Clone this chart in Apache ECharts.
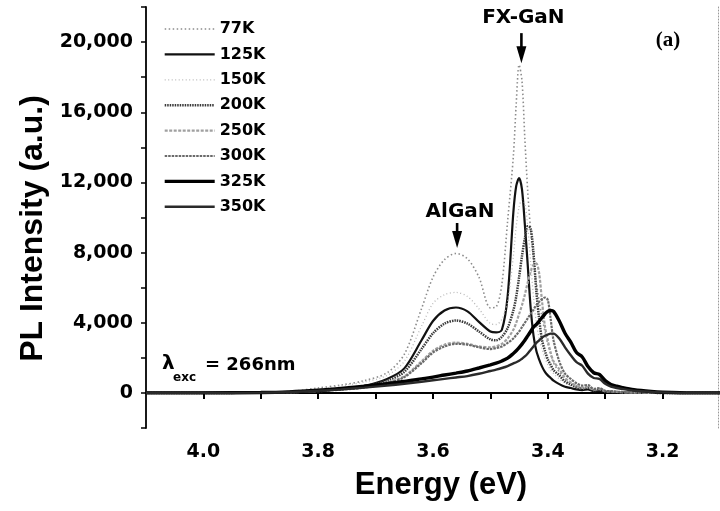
<!DOCTYPE html>
<html><head><meta charset="utf-8">
<script src="https://cdn.jsdelivr.net/npm/echarts@6/dist/echarts.min.js"></script>
<style>html,body{margin:0;padding:0;background:#fff}#c{width:720px;height:511px}</style>
</head><body><div id="c"></div>
<script>
// Photon energy grid (eV)
const energy = [4.10, 4.00, 3.90, 3.85, 3.80, 3.76, 3.72, 3.68, 3.65, 3.62,
  3.60, 3.58, 3.56, 3.54, 3.52, 3.50, 3.49, 3.48, 3.47, 3.46,
  3.455, 3.45, 3.445, 3.44, 3.435, 3.43, 3.425, 3.42, 3.415, 3.41,
  3.405, 3.40, 3.395, 3.39, 3.38, 3.37, 3.36, 3.35, 3.34, 3.33,
  3.32, 3.31, 3.30, 3.29, 3.28, 3.27, 3.25, 3.22, 3.20, 3.15, 3.10];

const temps = ['77K', '125K', '150K', '200K', '250K', '300K', '325K', '350K'];

const pl77K = [0, 0, 20, 80, 280, 450, 700, 1150, 2200, 4800,
  6600, 7600, 7950, 7650, 6600, 4850, 4900, 6200, 9800, 13500,
  16500, 18700, 17800, 14500, 11500, 9300, 7600, 6300, 5200, 4300,
  3500, 2800, 2200, 1700, 1200, 800, 550, 380, 280, 320,
  160, 200, 100, 80, 60, 40, 20, 10, 0, 0, 0];
const pl125K = [0, 0, 10, 40, 130, 250, 400, 800, 1400, 3000,
  4100, 4700, 4870, 4650, 4050, 3500, 3450, 3600, 5500, 10300,
  11800, 12250, 11600, 9600, 7300, 4900, 3300, 2400, 1900, 1500,
  1200, 1000, 850, 700, 500, 350, 280, 200, 160, 200,
  90, 120, 60, 50, 40, 30, 15, 5, 0, 0, 0];
const pl150K = [0, 0, 15, 60, 220, 400, 620, 1000, 1800, 3800,
  5100, 5600, 5730, 5500, 4800, 3950, 3900, 4200, 5200, 7800,
  9500, 10600, 11000, 10800, 9500, 7500, 5500, 4000, 3100, 2500,
  2000, 1600, 1300, 1100, 800, 550, 400, 300, 220, 260,
  130, 160, 80, 60, 50, 30, 15, 5, 0, 0, 0];
const pl200K = [0, 0, 10, 40, 130, 240, 380, 700, 1200, 2500,
  3400, 3950, 4130, 3950, 3500, 3050, 3000, 3200, 3700, 4700,
  5500, 6600, 7800, 8800, 9500, 9400, 8000, 5800, 4200, 3000,
  2400, 1900, 1600, 1300, 1000, 650, 480, 330, 260, 300,
  150, 190, 80, 60, 50, 30, 15, 5, 0, 0, 0];
const pl250K = [0, 0, 10, 35, 110, 200, 330, 600, 950, 1800,
  2400, 2750, 2870, 2800, 2650, 2600, 2650, 2800, 3100, 3600,
  4000, 4500, 5000, 5600, 6300, 6900, 7300, 7380, 6800, 5200,
  3800, 3000, 2300, 1800, 1350, 850, 600, 400, 300, 350,
  180, 220, 100, 80, 60, 40, 20, 5, 0, 0, 0];
const pl300K = [0, 0, 10, 30, 100, 180, 300, 560, 900, 1700,
  2300, 2650, 2800, 2750, 2600, 2500, 2550, 2650, 2850, 3100,
  3300, 3500, 3750, 4000, 4250, 4500, 4750, 5000, 5200, 5350,
  5440, 5300, 4200, 3000, 1800, 1100, 800, 550, 420, 450,
  230, 270, 120, 100, 70, 50, 25, 5, 0, 0, 0];
const pl325K = [0, 0, 20, 60, 150, 250, 380, 530, 650, 800,
  900, 1020, 1130, 1250, 1420, 1600, 1700, 1820, 1980, 2250,
  2400, 2580, 2780, 3000, 3250, 3500, 3750, 3900, 4100, 4300,
  4500, 4650, 4700, 4650, 4100, 3400, 2900, 2300, 2050, 1500,
  1150, 1050, 700, 480, 380, 300, 180, 80, 40, 0, 0];
const pl350K = [0, 0, 15, 50, 120, 200, 300, 420, 520, 640,
  720, 800, 880, 960, 1090, 1250, 1330, 1420, 1530, 1680,
  1750, 1830, 1950, 2080, 2250, 2450, 2650, 2850, 3000, 3150,
  3260, 3330, 3380, 3380, 3100, 2600, 2150, 1750, 1550, 1100,
  850, 800, 520, 360, 280, 220, 130, 60, 30, 0, 0];

const xMajorTicks = [4.0, 3.8, 3.6, 3.4, 3.2];
const xAllTicks = [4.0, 3.9, 3.8, 3.7, 3.6, 3.5, 3.4, 3.3, 3.2];

const seriesValues = [pl77K, pl125K, pl150K, pl200K, pl250K, pl300K, pl325K, pl350K];
const lineStyles = [
  {color: '#8c8c8c', width: 1.6, type: [1.5, 2.5]},
  {color: '#111111', width: 2.2, type: 'solid'},
  {color: '#b8b8b8', width: 1.3, type: [1, 2.5]},
  {color: '#3a3a3a', width: 2.5, type: [1.5, 1]},
  {color: '#a0a0a0', width: 2.2, type: [3, 1.5]},
  {color: '#6a6a6a', width: 2.2, type: [2.5, 1]},
  {color: '#000000', width: 3.4, type: 'solid'},
  {color: '#2a2a2a', width: 2.4, type: 'solid'}
];

const chart = echarts.init(document.getElementById('c'), null, {renderer: 'canvas'});
const tickFont = {fontFamily: 'DejaVu Sans', fontWeight: 'bold', fontSize: 19, color: '#000'};

const option = {
  animation: false,
  backgroundColor: '#fff',
  grid: {left: 146, right: 2, top: 7, bottom: 83},
  legend: {
    orient: 'vertical', left: 163, top: 21, padding: 0,
    itemWidth: 50, itemHeight: 14, itemGap: 9.4,
    data: temps.map((t, k) => ({name: t, lineStyle: Object.assign({}, lineStyles[k])})),
    itemStyle: {opacity: 0},
    textStyle: {fontFamily: 'DejaVu Sans', fontWeight: 'bold', fontSize: 16, lineHeight: 16, color: '#000'}
  },
  xAxis: [{
    type: 'value', min: 3.1035, max: 4.1, inverse: true, position: 'bottom',
    axisLine: {show: true, lineStyle: {color: '#000', width: 1.8}},
    axisTick: {show: true, customValues: xAllTicks, length: 6, lineStyle: {color: '#000', width: 2}},
    axisLabel: Object.assign({customValues: xMajorTicks, margin: 15, formatter: v => v.toFixed(1)}, tickFont),
    splitLine: {show: false},
    name: 'Energy (eV)', nameLocation: 'middle', nameGap: 42,
    nameTextStyle: {fontFamily: 'Liberation Sans', fontWeight: 'bold', fontSize: 31, color: '#000', padding: [0, 0, 0, 18]}
  }, {
    type: 'value', min: 3.1035, max: 4.1, inverse: true, position: 'top',
    axisLine: {show: true, lineStyle: {color: '#000', width: 1.8}},
    axisTick: {show: false}, axisLabel: {show: false}, splitLine: {show: false}
  }],
  yAxis: [{
    type: 'value', min: -2000, max: 22000, interval: 2000, position: 'left',
    axisLine: {show: true, lineStyle: {color: '#000', width: 1.8}},
    axisTick: {show: true, length: 5, lineStyle: {color: '#000', width: 1.5}},
    axisLabel: Object.assign({margin: 13, formatter: v => (v >= 0 && v <= 20000 && v % 4000 === 0) ? v.toLocaleString('en-US') : ''}, tickFont),
    splitLine: {show: false},
    name: 'PL Intensity (a.u.)', nameLocation: 'middle', nameGap: 88,
    nameTextStyle: {fontFamily: 'Liberation Sans', fontWeight: 'bold', fontSize: 32, color: '#000', padding: [0, 22, 0, 0]}
  }, {
    type: 'value', min: -2000, max: 22000, position: 'right',
    axisLine: {show: true, lineStyle: {color: '#999', width: 1, type: [1, 2]}},
    axisTick: {show: false}, axisLabel: {show: false}, splitLine: {show: false}
  }],
  series: temps.map((name, k) => ({
    name: name, type: 'line', xAxisIndex: 0, yAxisIndex: 0,
    symbol: 'none', smooth: 0.3, clip: true,
    lineStyle: lineStyles[k], itemStyle: {color: lineStyles[k].color},
    data: energy.map((e, i) => [e, seriesValues[k][i]])
  }))
};
chart.setOption(option);

// Annotations anchored to data coordinates
const algTip = chart.convertToPixel({xAxisIndex: 0, yAxisIndex: 0}, [3.558, 8260]);
const fxTip = chart.convertToPixel({xAxisIndex: 0, yAxisIndex: 0}, [3.446, 18800]);
function arrow(tip, shaftLen, headLen) {
  return [
    {type: 'rect', shape: {x: tip[0] - 1.3, y: tip[1] - headLen - shaftLen, width: 2.6, height: shaftLen + 1}, style: {fill: '#000'}},
    {type: 'polygon', shape: {points: [[tip[0] - 5, tip[1] - headLen], [tip[0] + 5, tip[1] - headLen], [tip[0], tip[1]]]}, style: {fill: '#000'}}
  ];
}
const annFont = 'bold 20px "DejaVu Sans"';
chart.setOption({
  graphic: [].concat(
    arrow(algTip, 8, 17),
    arrow(fxTip, 13, 17),
    [
      {type: 'text', style: {text: 'AlGaN', x: algTip[0] + 3, y: algTip[1] - 36, align: 'center', verticalAlign: 'middle', font: annFont, fill: '#000'}},
      {type: 'text', style: {text: 'FX-GaN', x: fxTip[0] + 2, y: fxTip[1] - 45, align: 'center', verticalAlign: 'middle', font: annFont, fill: '#000'}},
      {type: 'text', style: {text: '(a)', x: 668, y: 41, align: 'center', verticalAlign: 'middle', font: 'bold 21px "Liberation Serif"', fill: '#000'}},
      {type: 'text', style: {text: 'λ', x: 162, y: 364, align: 'left', verticalAlign: 'middle', font: 'bold 20px "DejaVu Sans"', fill: '#000'}},
      {type: 'text', style: {text: 'exc', x: 173, y: 378, align: 'left', verticalAlign: 'middle', font: 'bold 12px "DejaVu Sans"', fill: '#000'}},
      {type: 'text', style: {text: '= 266nm', x: 205, y: 365, align: 'left', verticalAlign: 'middle', font: 'bold 18px "DejaVu Sans"', fill: '#000'}}
    ]
  )
});
</script>
</body></html>
